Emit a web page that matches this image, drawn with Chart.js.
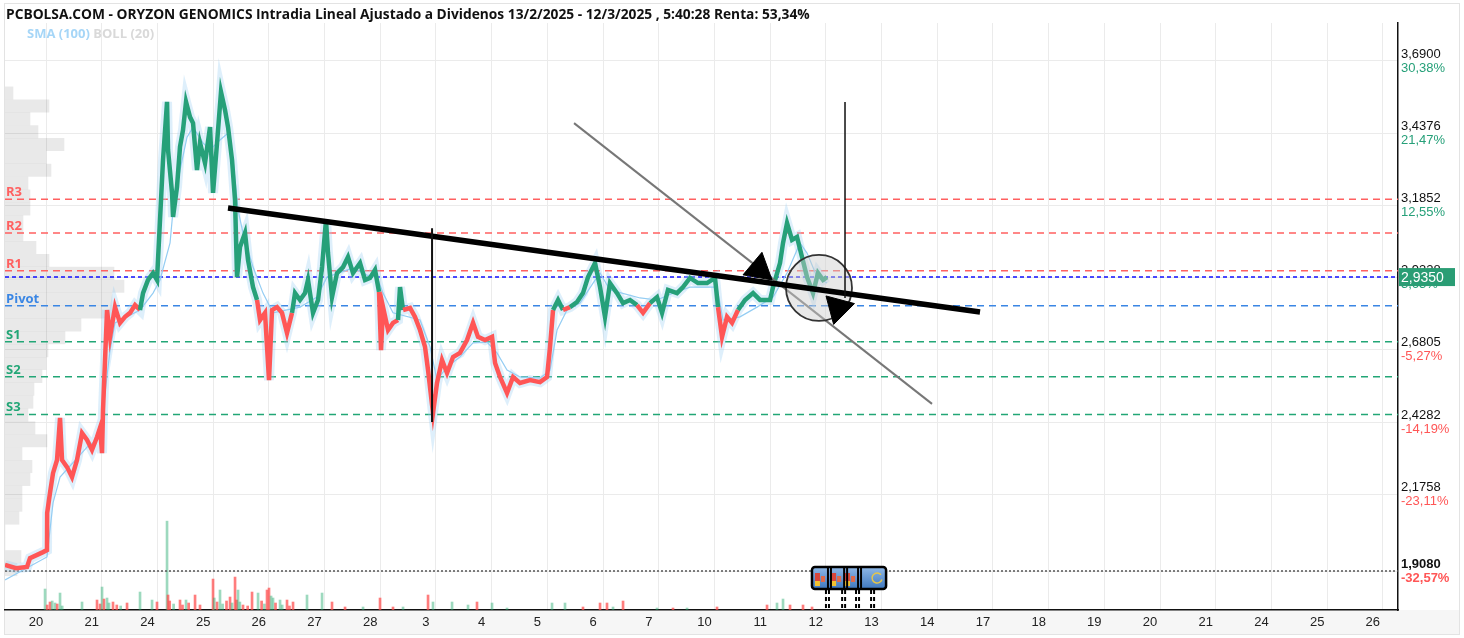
<!DOCTYPE html>
<html>
<head>
<meta charset="utf-8">
<title>ORYZON GENOMICS - Intradia</title>
<script src="https://cdn.jsdelivr.net/npm/chart.js@4.4.1/dist/chart.umd.min.js"></script>
<style>
    html, body { margin: 0; padding: 0; background: #fff; }
    #wrap { position: relative; width: 1464px; height: 638px; }
    #title { position: absolute; left: 6px; top: 4px; font: bold 13.75px "Open Sans", sans-serif; color: #111; white-space: nowrap; }
    #legend { position: absolute; left: 27px; top: 24px; font: bold 13px "Open Sans", sans-serif; white-space: nowrap; }
    #legend .sma { color: #a6d6f7; }
    #legend .boll { color: #d9d9d9; }
</style>
</head>
<body>
<div id="wrap">
    <canvas id="chart" width="1464" height="638"></canvas>
    <div id="title">PCBOLSA.COM - ORYZON GENOMICS Intradia Lineal Ajustado a Dividenos 13/2/2025 - 12/3/2025 , 5:40:28 Renta: 53,34%</div>
    <div id="legend"><span class="sma">SMA (100)</span> <span class="boll">BOLL (20)</span></div>
</div>
<script>
// Session labels (one per trading day, index = day number on the x axis)
const dayLabels = ['20', '21', '24', '25', '26', '27', '28', '3', '4', '5', '6', '7', '10', '11', '12', '13', '14', '17', '18', '19', '20', '21', '24', '25', '26'];

// Intraday price (time in trading days from the "20" session)
const priceTime = [
    -0.557, -0.359, -0.162, -0.108, 0.126, 0.197, 0.20, 0.251, 0.305, 0.377,
    0.431, 0.467, 0.557, 0.646, 0.736, 0.826, 0.916, 1.005, 1.095, 1.149,
    1.185, 1.203, 1.239, 1.275, 1.329, 1.418, 1.508, 1.598, 1.688, 1.777,
    1.867, 1.921, 2.011, 2.101, 2.172, 2.190, 2.280, 2.352, 2.370, 2.442,
    2.460, 2.531, 2.585, 2.639, 2.693, 2.765, 2.819, 2.890, 2.944, 3.034,
    3.124, 3.178, 3.250, 3.321, 3.393, 3.447, 3.519, 3.573, 3.609, 3.662,
    3.752, 3.806, 3.896, 3.968, 4.022, 4.111, 4.183, 4.237, 4.327, 4.416,
    4.506, 4.596, 4.650, 4.740, 4.829, 4.883, 4.973, 5.063, 5.135, 5.206,
    5.242, 5.314, 5.404, 5.512, 5.601, 5.691, 5.817, 5.907, 5.996, 6.086,
    6.158, 6.194, 6.230, 6.320, 6.409, 6.499, 6.535, 6.589, 6.715, 6.804,
    6.894, 6.984, 7.038, 7.127, 7.199, 7.289, 7.379, 7.487, 7.612, 7.738,
    7.846, 7.935, 8.061, 8.187, 8.241, 8.330, 8.456, 8.564, 8.689, 8.869,
    9.048, 9.174, 9.228, 9.282, 9.372, 9.461, 9.587, 9.713, 9.820, 9.910,
    10.036, 10.126, 10.215, 10.305, 10.431, 10.539, 10.664, 10.790, 10.898, 11.023,
    11.149, 11.239, 11.346, 11.508, 11.616, 11.741, 11.885, 12.047, 12.190, 12.244,
    12.316, 12.406, 12.496, 12.603, 12.729, 12.873, 12.998, 13.178, 13.232, 13.357,
    13.411, 13.483, 13.573, 13.662, 13.752, 13.842, 13.950, 14.039, 14.129, 14.201
];
const priceValue = [
    1.929, 1.918, 1.922, 1.953, 1.974, 1.981, 2.111, 2.181, 2.250, 2.296,
    2.443, 2.296, 2.271, 2.236, 2.296, 2.390, 2.366, 2.331, 2.376, 2.408,
    2.320, 2.471, 2.645, 2.820, 2.726, 2.830, 2.775, 2.796, 2.810, 2.837,
    2.820, 2.879, 2.925, 2.949, 2.925, 2.995, 3.344, 3.547, 3.379, 3.229,
    3.145, 3.250, 3.390, 3.449, 3.547, 3.494, 3.473, 3.309, 3.404, 3.334,
    3.459, 3.229, 3.404, 3.582, 3.519, 3.459, 3.344, 3.204, 2.935, 3.040,
    3.089, 2.995, 2.900, 2.855, 2.785, 2.810, 2.575, 2.820, 2.830, 2.810,
    2.740, 2.810, 2.879, 2.855, 2.879, 2.925, 2.810, 2.855, 2.970, 3.134,
    3.019, 2.865, 2.949, 2.970, 3.005, 2.949, 2.984, 2.925, 2.932, 2.960,
    2.883, 2.680, 2.830, 2.750, 2.775, 2.785, 2.900, 2.820, 2.827, 2.796,
    2.750, 2.691, 2.610, 2.460, 2.565, 2.645, 2.600, 2.656, 2.670, 2.715,
    2.775, 2.726, 2.715, 2.726, 2.635, 2.586, 2.530, 2.586, 2.565, 2.575,
    2.568, 2.586, 2.691, 2.820, 2.855, 2.820, 2.830, 2.848, 2.879, 2.935,
    2.984, 2.900, 2.796, 2.914, 2.879, 2.844, 2.855, 2.837, 2.810, 2.844,
    2.865, 2.810, 2.890, 2.879, 2.900, 2.932, 2.914, 2.914, 2.932, 2.830,
    2.726, 2.796, 2.775, 2.820, 2.855, 2.879, 2.855, 2.855, 2.900, 2.984,
    3.054, 3.124, 3.065, 3.075, 3.005, 2.935, 2.879, 2.949, 2.925, 2.935
];

// SMA (100)
const smaTime = [
    -0.557, 0.197, 0.305, 0.431, 0.916, 1.149, 1.239, 1.329, 1.418, 1.867,
    2.101, 2.226, 2.406, 2.460, 2.585, 2.711, 2.819, 2.998, 3.124, 3.303,
    3.447, 3.537, 3.627, 3.716, 3.896, 4.075, 4.255, 4.740, 5.045, 5.224,
    5.691, 5.943, 6.122, 6.230, 6.409, 6.894, 7.074, 7.199, 7.379, 7.612,
    7.846, 8.097, 8.276, 8.456, 8.689, 9.048, 9.228, 9.354, 9.533, 9.767,
    10.000, 10.126, 10.305, 10.844, 11.149, 11.436, 11.741, 12.226, 12.334, 12.639,
    12.944, 13.232, 13.483, 13.716, 13.842, 14.022, 14.201
];
const smaValue = [
    1.877, 1.957, 2.146, 2.236, 2.341, 2.376, 2.530, 2.680, 2.775, 2.820,
    2.879, 2.925, 3.054, 3.169, 3.309, 3.424, 3.459, 3.404, 3.379, 3.414,
    3.438, 3.344, 3.169, 3.089, 2.970, 2.879, 2.810, 2.830, 2.865, 2.935,
    2.967, 2.942, 2.935, 2.879, 2.810, 2.785, 2.691, 2.575, 2.621, 2.656,
    2.705, 2.708, 2.670, 2.610, 2.586, 2.582, 2.610, 2.750, 2.820, 2.844,
    2.914, 2.949, 2.890, 2.862, 2.855, 2.879, 2.900, 2.900, 2.785, 2.796,
    2.830, 2.865, 2.949, 3.054, 3.019, 2.935, 2.914
];

// Volume (thousands of shares), side 1 = up tick, -1 = down tick
const volTime = [
    0.162, 0.20, 0.251, 0.29, 0.341, 0.38, 0.431, 0.47, 0.826, 1.095,
    1.15, 1.185, 1.22, 1.275, 1.31, 1.382, 1.45, 1.52, 1.634, 1.867,
    2.083, 2.172, 2.352, 2.370, 2.40, 2.47, 2.585, 2.63, 2.693, 2.74,
    2.855, 2.944, 3.178, 3.20, 3.25, 3.303, 3.35, 3.42, 3.483, 3.52,
    3.573, 3.60, 3.627, 3.66, 3.716, 3.80, 3.878, 3.986, 4.05, 4.10,
    4.147, 4.183, 4.22, 4.255, 4.30, 4.381, 4.42, 4.506, 4.55, 4.614,
    4.865, 5.135, 5.314, 5.548, 5.871, 6.176, 6.409, 6.589, 7.038, 7.127,
    7.469, 7.756, 7.917, 8.187, 8.456, 9.264, 9.497, 9.820, 10.126, 10.251,
    10.359, 10.539, 11.149, 11.436, 11.688, 12.226, 13.124, 13.303, 13.411, 13.537,
    13.770, 13.932
];
const volAmount = [
    42, 10, 16, 18, 14, 12, 34, 8, 16, 20,
    12, 46, 22, 24, 14, 16, 10, 8, 14, 36,
    20, 16, 178, 30, 18, 12, 20, 10, 20, 14,
    30, 10, 62, 24, 16, 40, 12, 18, 26, 14,
    66, 20, 40, 16, 10, 8, 36, 34, 18, 12,
    40, 44, 28, 24, 14, 20, 10, 20, 8, 16,
    30, 34, 16, 6, 6, 24, 6, 6, 30, 16,
    16, 10, 16, 14, 4, 14, 14, 6, 14, 14,
    6, 18, 4, 4, 4, 6, 10, 14, 22, 10,
    10, 6
];
const volSide = [
    1, -1, -1, 1, 1, -1, 1, 1, 1, -1,
    -1, 1, -1, 1, 1, -1, -1, 1, -1, 1,
    1, -1, 1, -1, -1, 1, -1, -1, 1, -1,
    -1, -1, -1, 1, -1, 1, 1, -1, -1, 1,
    -1, -1, 1, 1, -1, -1, -1, 1, -1, 1,
    -1, -1, 1, 1, -1, 1, 1, -1, -1, -1,
    1, 1, -1, -1, 1, -1, -1, 1, -1, 1,
    1, 1, -1, 1, 1, 1, 1, -1, -1, -1,
    1, -1, 1, -1, 1, -1, -1, 1, 1, -1,
    -1, -1
];

// Volume by price (left side profile)
const profilePrice = [
    3.578, 3.533, 3.488, 3.443, 3.398, 3.353, 3.308, 3.263, 3.218, 3.173,
    3.128, 3.083, 3.038, 2.993, 2.948, 2.903, 2.858, 2.813, 2.768, 2.723,
    2.678, 2.633, 2.588, 2.543, 2.498, 2.453, 2.408, 2.363, 2.318, 2.273,
    2.228, 2.183, 2.138, 2.093, 2.048, 2.003, 1.958, 1.913
];
const profileVolume = [
    8, 44, 25, 33, 59, 41, 46, 23, 25, 25,
    18, 18, 31, 44, 109, 119, 107, 107, 76, 60,
    43, 41, 37, 29, 28, 23, 30, 42, 17, 27,
    25, 17, 17, 14, 0, 0, 16, 12
];

// Pivot levels
const levelNames = ['R3', 'R2', 'R1', 'Pivot', 'S1', 'S2', 'S3'];
const levelValues = [3.207, 3.089, 2.957, 2.835, 2.709, 2.587, 2.455];

// Right axis
const axisTicks = [3.69, 3.4376, 3.1852, 2.9328, 2.6805, 2.4282, 2.1758, 1.908];
const axisPercent = [30.38, 21.47, 12.55, 3.63, -5.27, -14.19, -23.11, -32.57];
const lastPrice = 2.935;
const refPrice = 2.830;
const minPrice = 1.908;

// Hand drawn studies: [[day, price], [day, price]]
const trendLine = [[3.447, 3.176], [16.948, 2.813]];
const diagonalLine = [[9.659, 3.473], [16.086, 2.492]];
const verticalLines = [
    [[7.110, 3.106], [7.110, 2.429]],
    [[14.524, 3.547], [14.524, 2.862]]
];
const circleMark = [14.057, 2.897];
const arrowDays = [12.980, 14.399];
const arrowPrices = [2.963, 2.827];
const newsDays = [14.20, 14.49, 14.74, 15.01];

const xMin = -0.557, xMax = 24.452;
const yMin = 1.7718, yMax = 3.8227;

const GREEN = '#26a079';
const RED = '#ff5656';
const AXIS_FONT = '"Liberation Sans", Arial, sans-serif';
const LABEL_FONT = '"Open Sans", sans-serif';

function fmtNum(v) {
    return v.toFixed(4).replace('.', ',');
}

function fmtPct(v) {
    return v.toFixed(2).replace('.', ',') + '%';
}

function levelColor(name) {
    if (name.startsWith('R')) return '#ff6060';
    if (name.startsWith('S')) return '#22a676';
    return '#3a86e4';
}

function pts(line) {
    return line.map(p => ({x: p[0], y: p[1]}));
}

function flatLine(v) {
    return [{x: xMin, y: v}, {x: xMax, y: v}];
}

const overlay = {
    id: 'overlay',
    beforeDraw(chart) {
        const {ctx, chartArea} = chart;
        ctx.save();
        ctx.fillStyle = '#fff';
        ctx.fillRect(0, 0, chart.width, chart.height);
        ctx.fillStyle = '#f6f6f6';
        ctx.fillRect(4, chartArea.bottom, chart.width - 8, chart.height - chartArea.bottom - 4);
        ctx.strokeStyle = '#e3e3e3';
        ctx.lineWidth = 1;
        ctx.strokeRect(4.5, 3.5, chart.width - 9, chart.height - 7);
        ctx.restore();
    },
    afterDraw(chart) {
        const {ctx, chartArea} = chart;
        const x = chart.scales.x;
        const y = chart.scales.y;
        ctx.save();

        // pivot level names
        ctx.font = 'bold 13px ' + LABEL_FONT;
        ctx.textBaseline = 'alphabetic';
        levelNames.forEach((name, i) => {
            ctx.fillStyle = levelColor(name);
            ctx.fillText(name, chartArea.left + 1, y.getPixelForValue(levelValues[i]) - 3);
        });

        // percentage under each price tick
        ctx.textBaseline = 'middle';
        axisTicks.forEach((t, i) => {
            const bold = t === minPrice ? 'bold ' : '';
            ctx.font = bold + '13px ' + AXIS_FONT;
            ctx.fillStyle = axisPercent[i] >= 0 ? GREEN : RED;
            ctx.fillText(fmtPct(axisPercent[i]), chartArea.right + 3, y.getPixelForValue(t) + 7);
        });

        // last price box
        const py = y.getPixelForValue(lastPrice);
        ctx.fillStyle = '#2a9d74';
        ctx.fillRect(chartArea.right + 1, py - 9, 56, 18);
        ctx.fillStyle = '#fff';
        ctx.font = '14px ' + AXIS_FONT;
        ctx.fillText(fmtNum(lastPrice), chartArea.right + 3, py + 1);

        // news markers
        const ex = newsDays.map(d => x.getPixelForValue(d));
        const top = chartArea.bottom - 43;
        const h = 22;
        const left = ex[0] - 15;
        const right = ex[ex.length - 1] + 14;
        ctx.strokeStyle = '#000';
        ctx.lineWidth = 2;
        ctx.setLineDash([4, 3]);
        ex.forEach(p => {
            [p - 1, p + 2].forEach(q => {
                ctx.beginPath();
                ctx.moveTo(q, top + h + 1);
                ctx.lineTo(q, chartArea.bottom);
                ctx.stroke();
            });
        });
        ctx.setLineDash([]);
        const grad = ctx.createLinearGradient(0, top, 0, top + h);
        grad.addColorStop(0, '#8fb8e6');
        grad.addColorStop(1, '#3f78bf');
        ctx.fillStyle = grad;
        ctx.beginPath();
        ctx.roundRect(left, top, right - left, h, 3);
        ctx.fill();
        ex.slice(0, 3).forEach(p => {
            ctx.fillStyle = '#d9463b';
            ctx.fillRect(p - 12, top + 6, 5, 8);
            ctx.fillStyle = '#f2c230';
            ctx.fillRect(p - 12, top + 14, 5, 5);
            ctx.fillStyle = '#e06a4a';
            ctx.fillRect(p - 6, top + 9, 4, 6);
        });
        ctx.strokeStyle = '#e6c64a';
        ctx.lineWidth = 1.5;
        ctx.beginPath();
        ctx.arc((ex[3] + right) / 2 - 2, top + h / 2, 5, 0.3, 5.6);
        ctx.stroke();
        ctx.strokeStyle = '#000';
        ctx.lineWidth = 2.5;
        ctx.beginPath();
        ctx.roundRect(left, top, right - left, h, 3);
        ctx.stroke();
        ctx.lineWidth = 2;
        ex.slice(0, 3).forEach(p => {
            [p + 1, p + 4].forEach(q => {
                ctx.beginPath();
                ctx.moveTo(q, top);
                ctx.lineTo(q, top + h);
                ctx.stroke();
            });
        });
        ctx.restore();
    }
};

const datasets = [];

// drawings on top
datasets.push({
    data: [{x: arrowDays[0], y: arrowPrices[0]}, {x: arrowDays[1], y: arrowPrices[1]}],
    showLine: false,
    pointStyle: 'triangle',
    pointRadius: 17,
    pointRotation: [10, 195],
    pointBackgroundColor: '#000',
    pointBorderColor: '#000',
    order: 1
});
verticalLines.forEach((l, i) => {
    datasets.push({
        data: pts(l),
        borderColor: '#111',
        borderWidth: i === 0 ? 2 : 1.5,
        pointRadius: 0,
        order: 2
    });
});
datasets.push({
    data: pts(trendLine),
    borderColor: '#000',
    borderWidth: 5.5,
    pointRadius: 0,
    order: 3
});
datasets.push({
    data: [{x: circleMark[0], y: circleMark[1]}],
    showLine: false,
    pointRadius: 33,
    pointBackgroundColor: 'rgba(205,205,205,0.45)',
    pointBorderColor: '#333',
    pointBorderWidth: 1.8,
    order: 4
});
datasets.push({
    data: pts(diagonalLine),
    borderColor: '#777',
    borderWidth: 2,
    pointRadius: 0,
    order: 5
});

// price
const priceData = priceTime.map((t, i) => ({x: t, y: priceValue[i]}));
datasets.push({
    data: priceData,
    borderColor: GREEN,
    borderWidth: 4.5,
    pointRadius: 0,
    segment: {
        borderColor: c => (c.p0.parsed.y + c.p1.parsed.y) / 2 >= refPrice ? GREEN : RED
    },
    order: 10
});
datasets.push({
    data: smaTime.map((t, i) => ({x: t, y: smaValue[i]})),
    borderColor: '#94cdf3',
    borderWidth: 1.2,
    pointRadius: 0,
    order: 11
});
// bollinger envelope around the price
datasets.push({
    data: priceData,
    borderColor: 'rgba(160,208,243,0.35)',
    borderWidth: 10,
    pointRadius: 0,
    order: 12
});

// horizontal levels
levelNames.forEach((name, i) => {
    datasets.push({
        data: flatLine(levelValues[i]),
        borderColor: levelColor(name),
        borderWidth: 1.5,
        borderDash: [7, 5],
        pointRadius: 0,
        order: 15
    });
});
datasets.push({
    data: flatLine(lastPrice),
    borderColor: '#1010ff',
    borderWidth: 1.4,
    borderDash: [4, 3],
    pointRadius: 0,
    order: 14
});
datasets.push({
    data: flatLine(minPrice),
    borderColor: '#555',
    borderWidth: 1.3,
    borderDash: [2, 2],
    pointRadius: 0,
    order: 15
});

// volume
datasets.push({
    type: 'bar',
    xAxisID: 'x',
    yAxisID: 'yv',
    data: volTime.map((t, i) => ({x: t, y: volAmount[i]})),
    backgroundColor: volSide.map(s => s > 0 ? 'rgba(38,170,110,0.45)' : 'rgba(255,70,70,0.7)'),
    grouped: false,
    barThickness: 2,
    order: 19
});

// volume profile
datasets.push({
    type: 'bar',
    indexAxis: 'y',
    xAxisID: 'xp',
    yAxisID: 'y',
    data: profilePrice.map((p, i) => ({x: profileVolume[i], y: p})),
    backgroundColor: 'rgba(0,0,0,0.085)',
    grouped: false,
    barThickness: 12.4,
    order: 20
});

new Chart(document.getElementById('chart'), {
    type: 'line',
    data: { datasets: datasets },
    options: {
        responsive: false,
        animation: false,
        events: [],
        layout: { autoPadding: false, padding: { left: 5, top: 23, right: 0, bottom: 0 } },
        plugins: {
            legend: { display: false },
            tooltip: { enabled: false }
        },
        scales: {
            x: {
                type: 'linear',
                position: 'bottom',
                min: xMin,
                max: xMax,
                offset: false,
                afterBuildTicks: axis => {
                    axis.ticks = dayLabels.map((l, i) => ({value: i + 0.18}));
                },
                afterFit: axis => { axis.height = 28; },
                ticks: {
                    autoSkip: false,
                    maxRotation: 0,
                    labelOffset: -10,
                    padding: 5,
                    color: '#222',
                    font: { family: AXIS_FONT, size: 13 },
                    callback: (v, i) => dayLabels[i]
                },
                grid: { color: '#ebebeb', drawTicks: false, offset: false },
                border: { color: '#111', width: 1.5 }
            },
            y: {
                type: 'linear',
                position: 'right',
                min: yMin,
                max: yMax,
                offset: false,
                afterBuildTicks: axis => {
                    axis.ticks = axisTicks.map(v => ({value: v}));
                },
                afterFit: axis => { axis.width = 66; },
                ticks: {
                    labelOffset: -7,
                    padding: 3,
                    color: '#111',
                    font: c => ({
                        family: AXIS_FONT,
                        size: 13,
                        weight: c.tick && c.tick.value === minPrice ? 'bold' : 'normal'
                    }),
                    callback: v => fmtNum(v)
                },
                grid: { color: '#ebebeb', drawTicks: false, offset: false },
                border: { color: '#111', width: 1.5 }
            },
            xp: {
                type: 'linear',
                display: false,
                min: 0,
                max: 1393,
                offset: false
            },
            yv: {
                type: 'linear',
                display: false,
                min: 0,
                max: 1176,
                offset: false
            }
        }
    },
    plugins: [overlay]
});
</script>
</body>
</html>
